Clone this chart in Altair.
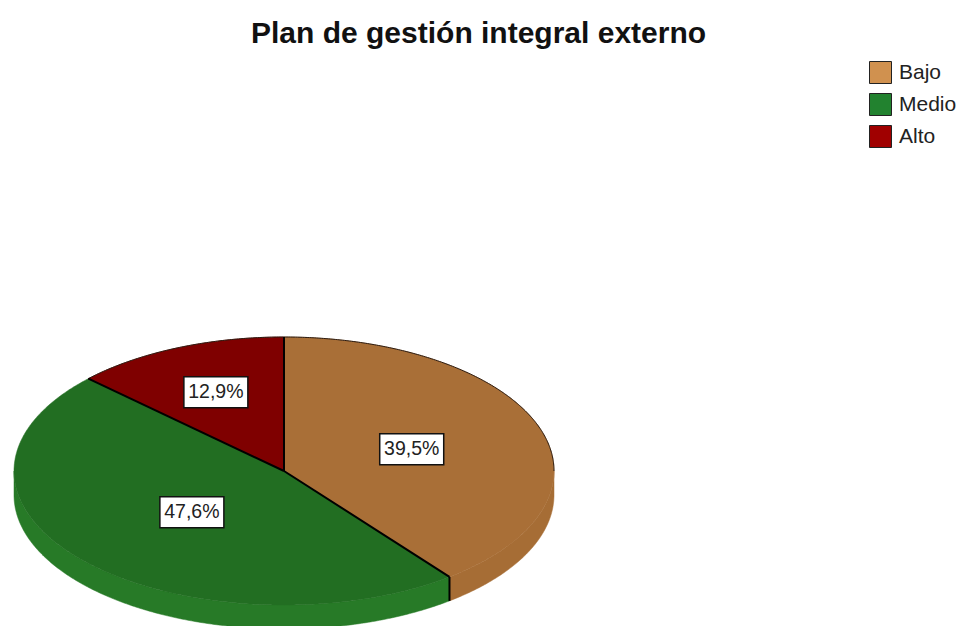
import altair as alt
import numpy as np
import pandas as pd

title = "Plan de gestión integral externo"
names = ["Bajo", "Medio", "Alto"]
shares = [39.5, 47.6, 12.9]
label_text = ["39,5%", "47,6%", "12,9%"]
label_radius = [0.50, 0.46, 0.64]
top_colors = ["#A96F37", "#226E22", "#7F0000"]
rim_colors = ["#A66D35", "#277A27", "#7F0000"]
legend_colors = ["#D0914F", "#22822F", "#A00000"]

W, H = 948, 618
CX, CY, RX, RY, DEPTH = 276, 463, 270, 134, 24
DEPTH_U = DEPTH / RY
xs = alt.Scale(domain=[-CX / RX, (W - CX) / RX], range=[0, W], nice=False, zero=False)
ys = alt.Scale(domain=[(CY - H) / RY, CY / RY], range=[H, 0], nice=False, zero=False)
X = alt.X("x:Q", scale=xs, axis=None)
Y = alt.Y("y:Q", scale=ys, axis=None)


def arc(a, b, dy=0.0):
    t = np.radians(np.linspace(a, b, max(int(abs(b - a) * 2), 2)))
    return list(np.sin(t) * 1.0), list(np.cos(t) - dy)


def poly(px, py, color, stroke=None, sw=0.5):
    d = pd.DataFrame({"x": px, "y": py, "i": range(len(px))})
    return alt.Chart(d).mark_line(fill=color, stroke=stroke or color, strokeWidth=sw).encode(
        x=X, y=Y, order="i:Q"
    )


def path(px, py, color, sw):
    d = pd.DataFrame({"x": px, "y": py, "i": range(len(px))})
    return alt.Chart(d).mark_line(stroke=color, strokeWidth=sw).encode(x=X, y=Y, order="i:Q")


edges = np.concatenate([[0], np.cumsum(shares)]) * 3.6
layers = []

# rim
for k in [0, 1]:
    a = max(edges[k], 90)
    b = min(edges[k + 1], 270)
    ux, uy = arc(a, b)
    lx, ly = arc(b, a, DEPTH_U)
    layers.append(poly(ux + lx + ux[:1], uy + ly + uy[:1], rim_colors[k]))

# top faces
for k in range(3):
    ax, ay = arc(edges[k], edges[k + 1])
    layers.append(poly([0.0] + ax + [0.0], [0.0] + ay + [0.0], top_colors[k]))

# outline and dividers
ox, oy = arc(edges[2], 360 + 90)
layers.append(path(ox, oy, "#2a1a10", 1))
for e in edges[:3]:
    s, c = np.sin(np.radians(e)), np.cos(np.radians(e))
    layers.append(path([0.0, s], [0.0, c], "#000000", 2))
s, c = np.sin(np.radians(edges[1])), np.cos(np.radians(edges[1]))
layers.append(path([s, s], [c, c - DEPTH_U], "#000000", 2))

# labels
mid = (edges[:-1] + edges[1:]) / 2
lab = pd.DataFrame({
    "x": np.sin(np.radians(mid)) * label_radius,
    "y": np.cos(np.radians(mid)) * label_radius,
    "t": label_text,
})
layers.append(alt.Chart(lab).mark_rect(width=64, height=31, fill="white", stroke="#111111", strokeWidth=1.5).encode(x=X, y=Y))
layers.append(alt.Chart(lab).mark_text(font="Liberation Sans", fontSize=19.5, color="#222222").encode(x=X, y=Y, text="t:N"))

# title
layers.append(
    alt.Chart(pd.DataFrame({"t": [title]})).mark_text(
        font="Liberation Sans", fontSize=30, fontWeight="bold", color="#111111",
        align="left", baseline="alphabetic",
    ).encode(x=alt.value(243), y=alt.value(35), text="t:N")
)

# legend
leg = pd.DataFrame({"nivel": names})
layers.append(
    alt.Chart(leg).mark_square(size=1, opacity=1).encode(
        x=alt.value(-500),
        y=alt.value(-500),
        fill=alt.Fill(
            "nivel:N",
            scale=alt.Scale(domain=names, range=legend_colors),
            legend=alt.Legend(
                title=None, orient="none", legendX=861, legendY=53,
                symbolType="square", symbolSize=484, symbolStrokeColor="#222222",
                symbolStrokeWidth=1, symbolOpacity=1, rowPadding=5,
                labelFont="Liberation Sans", labelFontSize=21, labelColor="#222222",
                labelOffset=7,
            ),
        ),
    )
)

chart = alt.layer(*layers).properties(
    width=W, height=H,
    padding=0,
    autosize=alt.AutoSizeParams(type="none"),
).configure_view(stroke=None)

chart.save("out.html", embed_options={"renderer": "svg", "actions": False})
